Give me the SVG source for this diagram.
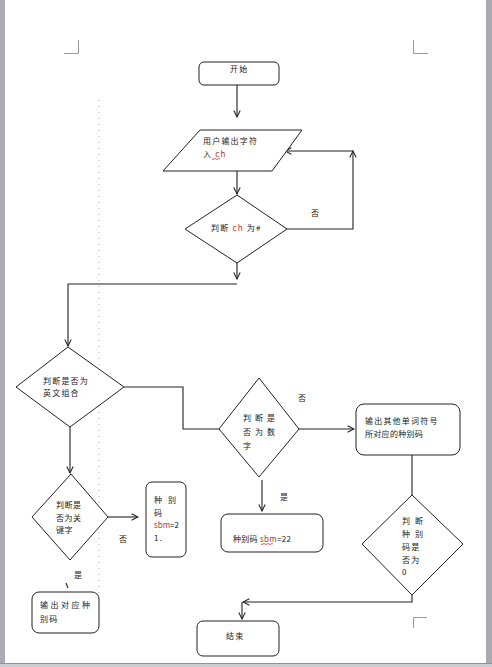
<svg xmlns="http://www.w3.org/2000/svg" width="492" height="667" viewBox="0 0 492 667">
<defs>
<marker id="arr" viewBox="0 0 10 10" refX="9" refY="5" markerWidth="8" markerHeight="8" orient="auto" markerUnits="userSpaceOnUse">
<polyline points="1,1 9,5 1,9" fill="none" stroke="#222" stroke-width="1.3"/>
</marker>
<style>
.s{fill:#fff;stroke:#222;stroke-width:1}
.c{fill:none;stroke:#222;stroke-width:1.1}
.t{font-family:"Noto Sans CJK SC","Liberation Sans",sans-serif;font-size:8px;fill:#222;letter-spacing:1.2px}
.r{fill:#b33}
.crop{fill:none;stroke:#999;stroke-width:1}
.u{fill:none;stroke:#d33;stroke-width:0.8}
</style>
</defs>
<rect x="0" y="0" width="492" height="667" fill="#fff"/>
<rect x="0" y="0" width="5" height="667" fill="#a9aab2"/>
<rect x="486" y="0" width="6" height="667" fill="#a9aab2"/>
<rect x="0" y="663" width="492" height="4" fill="#c9ccd2"/>
<line x1="0" y1="663.5" x2="492" y2="663.5" stroke="#8f929a"/>
<g id="cropmarks">
<polyline class="crop" points="64,53.5 78.5,53.5 78.5,40"/>
<polyline class="crop" points="413.5,40 413.5,53.5 428,53.5"/>
<polyline class="crop" points="427,617.5 413.5,617.5 413.5,628"/>
</g>
<line x1="99" y1="100" x2="99" y2="600" stroke="#aaa" stroke-width="1" stroke-dasharray="1,5"/>

<g id="connectors">
<line class="c" x1="237" y1="85" x2="237" y2="117" marker-end="url(#arr)"/>
<line class="c" x1="237" y1="171" x2="237" y2="194" marker-end="url(#arr)"/>
<polyline class="c" points="287,229 353,229 353,151" marker-end="url(#arr)"/>
<line class="c" x1="353" y1="151" x2="285" y2="151" marker-end="url(#arr)"/>
<line class="c" x1="237" y1="263" x2="237" y2="279" marker-end="url(#arr)"/>
<polyline class="c" points="237,284 68,284 68,346" marker-end="url(#arr)"/>
<polyline class="c" points="124,387 183,387 183,429 219,429"/>
<line class="c" x1="299" y1="429" x2="354" y2="429" marker-end="url(#arr)"/>
<line class="c" x1="412" y1="455" x2="412" y2="495"/>
<polyline class="c" points="412,595 412,602 243,602" marker-end="url(#arr)"/>
<line class="c" x1="242" y1="602" x2="242" y2="619" marker-end="url(#arr)"/>
<line class="c" x1="262" y1="480" x2="262" y2="511" marker-end="url(#arr)"/>
<line class="c" x1="70" y1="427" x2="70" y2="473" marker-end="url(#arr)"/>
<line class="c" x1="108" y1="517" x2="138" y2="517" marker-end="url(#arr)"/>
<line class="c" x1="66" y1="583" x2="68" y2="588"/>
<text class="t" x="311" y="216">否</text>
<text class="t" x="298" y="401">否</text>
<text class="t" x="280" y="500">是</text>
<text class="t" x="119" y="542">否</text>
<text class="t" x="74" y="578">是</text>
</g>

<g id="start">
<rect class="s" x="199" y="62" width="80" height="23" rx="5"/>
<text class="t" x="230" y="72">开始</text>
</g>

<g id="input">
<polygon class="s" points="200,130 302,130 272,171 163,171"/>
<text class="t" x="203" y="144">用户输出字符</text>
<text class="t" x="203" y="157">入 <tspan class="r">ch</tspan></text>
<path class="u" d="M212,159 q1,1 2,0 q1,-1 2,0 q1,1 2,0 q1,-1 2,0"/>
</g>

<g id="check-hash">
<polygon class="s" points="237,195 287,229 237,263 185,229"/>
<text class="t" x="211" y="231">判断 <tspan class="r">ch</tspan> 为#</text>
</g>

<g id="check-alpha">
<polygon class="s" points="68,347 124,387 70,427 16,387"/>
<text class="t" x="43" y="384">判断是否为</text>
<text class="t" x="43" y="396">英文组合</text>
</g>

<g id="check-digit">
<polygon class="s" points="259,378 299,429 259,477 219,429"/>
<text class="t" x="243" y="421" style="letter-spacing:4px">判断是</text>
<text class="t" x="243" y="435" style="letter-spacing:4px">否为数</text>
<text class="t" x="243" y="449">字</text>
</g>

<g id="other">
<rect class="s" x="356" y="404" width="104" height="51" rx="8"/>
<text class="t" x="365" y="424">输出其他单词符号</text>
<text class="t" x="365" y="437" style="letter-spacing:0.3px">所对应的种别码</text>
</g>

<g id="check-zero">
<polygon class="s" points="412,495 463,544 412,595 362,544"/>
<text class="t" x="402" y="524" style="letter-spacing:5px">判断</text>
<text class="t" x="402" y="537" style="letter-spacing:5px">种别</text>
<text class="t" x="402" y="550">码是</text>
<text class="t" x="402" y="563">否为</text>
<text class="t" x="402" y="575">0</text>
</g>

<g id="sbm22">
<rect class="s" x="221" y="514" width="102" height="38" rx="7"/>
<text class="t" x="233" y="542" style="letter-spacing:0.3px">种别码 <tspan class="r">sbm</tspan>=22</text>
<path class="u" d="M261,544 q1,1 2,0 q1,-1 2,0 q1,1 2,0 q1,-1 2,0 q1,1 2,0 q1,-1 2,0"/>
</g>

<g id="check-keyword">
<polygon class="s" points="71,474 108,517 70,560 32,517"/>
<text class="t" x="56" y="508" style="letter-spacing:0.5px">判断是</text>
<text class="t" x="56" y="521" style="letter-spacing:0.5px">否为关</text>
<text class="t" x="56" y="533" style="letter-spacing:0.5px">键字</text>
</g>

<g id="sbm21">
<rect class="s" x="146" y="482" width="40" height="75" rx="6"/>
<text class="t" x="154" y="503" style="letter-spacing:6px">种别</text>
<text class="t" x="154" y="516">码</text>
<text class="t" x="154" y="528" style="letter-spacing:0px"><tspan class="r">sbm</tspan>=2</text>
<text class="t" x="154" y="541">1.</text>
</g>

<g id="output-kw">
<rect class="s" x="32" y="592" width="67" height="41" rx="7"/>
<text class="t" x="40" y="608" style="letter-spacing:2.5px">输出对应种</text>
<text class="t" x="40" y="622">别码</text>
</g>

<g id="end">
<rect class="s" x="197" y="621" width="82" height="35" rx="6"/>
<text class="t" x="226" y="639">结束</text>
</g>
</svg>
